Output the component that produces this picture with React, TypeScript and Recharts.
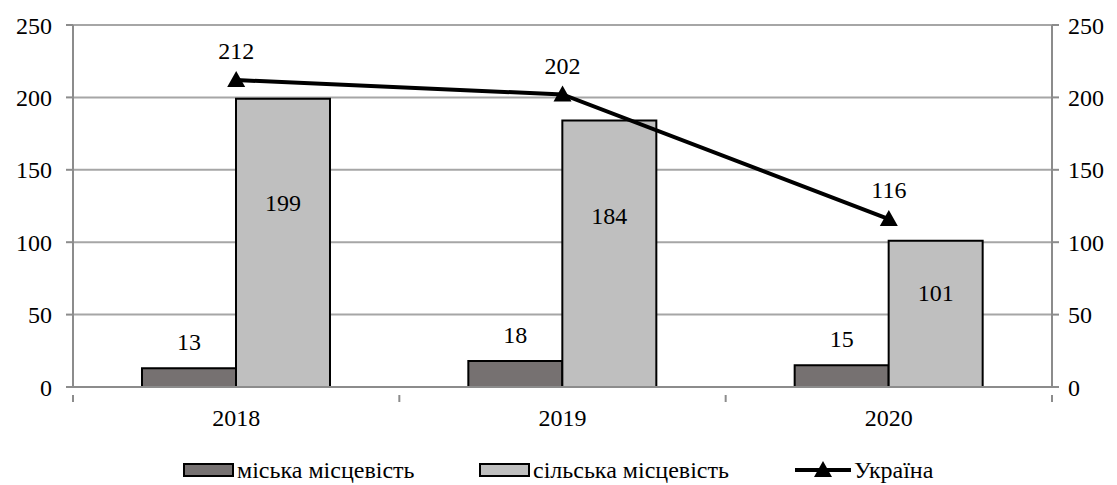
import React from 'react';
import {
  ComposedChart,
  Bar,
  Line,
  XAxis,
  YAxis,
  CartesianGrid,
  Legend,
  LabelList,
} from 'recharts';

const years = ['2018', '2019', '2020'];
const urban = [13, 18, 15];
const rural = [199, 184, 101];
const ukraine = [212, 202, 116];
const yTicks = [0, 50, 100, 150, 200, 250];
const seriesNames = ['міська місцевість', 'сільська місцевість', 'Україна'];

const FONT = '"Liberation Serif", "Times New Roman", serif';
const FONT_SIZE = 24;
const URBAN_FILL = '#767171';
const RURAL_FILL = '#bfbfbf';
const GRID = '#a6a6a6';
const AXIS = '#8c8c8c';

const chartData = years.map((year, i) => ({
  year,
  urban: urban[i],
  rural: rural[i],
  ukraine: ukraine[i],
}));

// category label centred, tick marks on the category boundaries
const YearTick = (props: any) => {
  const { x, y, payload, index } = props;
  const half = payload && payload.offset ? payload.offset : 979 / 3 / 2;
  return (
    <g>
      {index === 0 && <line x1={x - half} y1={y} x2={x - half} y2={y + 7} stroke={AXIS} strokeWidth={2} />}
      <line x1={x + half} y1={y} x2={x + half} y2={y + 7} stroke={AXIS} strokeWidth={2} />
      <text x={x} y={y + 31} textAnchor="middle" style={{ fontFamily: FONT, fontSize: FONT_SIZE }} fill="#000">
        {payload.value}
      </text>
    </g>
  );
};

const Triangle = (props: any) => {
  const { cx, cy } = props;
  if (cx == null || cy == null) return null;
  return <path d={`M${cx},${cy - 9} L${cx + 9},${cy + 7} L${cx - 9},${cy + 7} Z`} fill="#000" />;
};

// value sits in the upper part of the light bar
const InsideLabel = (props: any) => {
  const { x, y, width, height, value } = props;
  return (
    <text
      x={x + width / 2}
      y={y + height * 0.36}
      textAnchor="middle"
      dominantBaseline="central"
      style={{ fontFamily: FONT, fontSize: FONT_SIZE }}
      fill="#000"
    >
      {value}
    </text>
  );
};

const swatch = (fill: string) => (
  <span style={{ width: 47, height: 10, background: fill, border: '2px solid #000', marginRight: 3, flexShrink: 0 }} />
);

const LegendContent = () => (
  <div
    style={{
      height: 36,
      paddingTop: 6,
      boxSizing: 'border-box',
      display: 'flex',
      alignItems: 'center',
      paddingLeft: 183,
      fontFamily: FONT,
      fontSize: FONT_SIZE,
      color: '#000',
    }}
  >
    <span style={{ display: 'flex', alignItems: 'center', width: 296 }}>
      {swatch(URBAN_FILL)}
      {seriesNames[0]}
    </span>
    <span style={{ display: 'flex', alignItems: 'center', width: 316 }}>
      {swatch(RURAL_FILL)}
      {seriesNames[1]}
    </span>
    <span style={{ display: 'flex', alignItems: 'center' }}>
      <svg width={56} height={20} style={{ marginRight: 3 }}>
        <line x1={0} y1={10} x2={56} y2={10} stroke="#000" strokeWidth={4} />
        <path d="M28,1 L37,17 L19,17 Z" fill="#000" />
      </svg>
      {seriesNames[2]}
    </span>
  </div>
);

const tickStyle = { fontFamily: FONT, fontSize: FONT_SIZE, fill: '#000' };

export default function App() {
  return (
    <div style={{ position: 'absolute', left: 0, top: 0, background: '#fff', fontFamily: FONT }}>
      <ComposedChart
        width={1117}
        height={485}
        data={chartData}
        margin={{ top: 25, right: 0, bottom: 0, left: 0 }}
        barGap={0}
      >
        <CartesianGrid vertical={false} stroke={GRID} strokeWidth={2} yAxisId="left" />
        <XAxis
          dataKey="year"
          tick={<YearTick />}
          tickLine={false}
          axisLine={{ stroke: AXIS, strokeWidth: 2 }}
          height={62}
          interval={0}
        />
        <YAxis
          yAxisId="left"
          domain={[0, 250]}
          ticks={yTicks}
          width={73}
          tickSize={7}
          tickMargin={14}
          axisLine={{ stroke: AXIS, strokeWidth: 2 }}
          tickLine={{ stroke: AXIS, strokeWidth: 2 }}
          tick={tickStyle}
        />
        <YAxis
          yAxisId="right"
          orientation="right"
          domain={[0, 250]}
          ticks={yTicks}
          width={65}
          tickSize={7}
          tickMargin={9}
          axisLine={{ stroke: AXIS, strokeWidth: 2 }}
          tickLine={{ stroke: AXIS, strokeWidth: 2 }}
          tick={{ ...tickStyle, textAnchor: 'start' }}
        />
        <Legend verticalAlign="bottom" content={<LegendContent />} />
        <Bar yAxisId="left" dataKey="urban" name={seriesNames[0]} fill={URBAN_FILL} stroke="#000" strokeWidth={2} barSize={94} isAnimationActive={false}>
          <LabelList dataKey="urban" position="top" offset={18} style={tickStyle} />
        </Bar>
        <Bar yAxisId="left" dataKey="rural" name={seriesNames[1]} fill={RURAL_FILL} stroke="#000" strokeWidth={2} barSize={94} isAnimationActive={false}>
          <LabelList dataKey="rural" content={<InsideLabel />} />
        </Bar>
        <Line
          yAxisId="right"
          dataKey="ukraine"
          name={seriesNames[2]}
          stroke="#000"
          strokeWidth={4}
          dot={<Triangle />}
          activeDot={false}
          isAnimationActive={false}
        >
          <LabelList dataKey="ukraine" position="top" offset={21} style={tickStyle} />
        </Line>
      </ComposedChart>
    </div>
  );
}
